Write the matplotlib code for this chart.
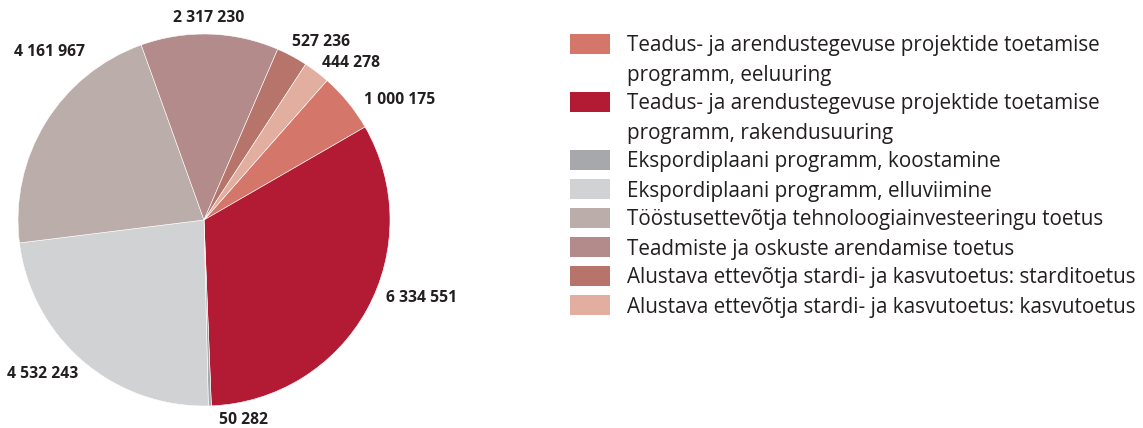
import matplotlib
matplotlib.use("Agg")
import matplotlib.pyplot as plt
from matplotlib.patches import Rectangle

categories = [
    "Teadus- ja arendustegevuse projektide toetamise\nprogramm, eeluuring",
    "Teadus- ja arendustegevuse projektide toetamise\nprogramm, rakendusuuring",
    "Ekspordiplaani programm, koostamine",
    "Ekspordiplaani programm, elluviimine",
    "Tööstusettevõtja tehnoloogiainvesteeringu toetus",
    "Teadmiste ja oskuste arendamise toetus",
    "Alustava ettevõtja stardi- ja kasvutoetus: starditoetus",
    "Alustava ettevõtja stardi- ja kasvutoetus: kasvutoetus",
]
values = [1000175, 6334551, 50282, 4532243, 4161967, 2317230, 527236, 444278]
value_labels = ["1 000 175", "6 334 551", "50 282", "4 532 243",
                "4 161 967", "2 317 230", "527 236", "444 278"]
colors = ["#D4776A", "#B31B34", "#A7A8AC", "#D1D2D4",
          "#BBAEAA", "#B38B8A", "#B7746B", "#E2AEA0"]

# label positions in pie (data) units
label_pos = [(1.054, 0.645), (1.172, -0.419), (0.215, -1.075), (-0.866, -0.828),
             (-0.828, 0.903), (0.027, 1.086), (0.629, 0.957), (0.790, 0.844)]

plt.rcParams['font.family'] = ['Open Sans', 'DejaVu Sans']
W, H = 1143, 428
fig = plt.figure(figsize=(W / 100, H / 100), dpi=100)

cx, cy, r = 204, 220, 186
ax = fig.add_axes([(cx - r) / W, (H - cy - r) / H, 2 * r / W, 2 * r / H])
ax.pie(values, colors=colors, startangle=48.6, counterclock=False, radius=1,
       wedgeprops=dict(linewidth=0.4, edgecolor="white"))
ax.set_xlim(-1, 1)
ax.set_ylim(-1, 1)
ax.set_aspect("auto")
ax.axis("off")

for (x, y), lab in zip(label_pos, value_labels):
    ax.text(x, y, lab, ha="center", va="center", fontsize=11.3, fontweight="bold",
            color="#231F20", clip_on=False)

# legend
box_x, box_w, box_h = 570, 40, 20
text_x = 627
line_h = 29.0
y = 44
for cat, col in zip(categories, colors):
    lines = cat.split("\n")
    fig.add_artist(Rectangle((box_x / W, (H - y - box_h / 2) / H), box_w / W, box_h / H,
                             transform=fig.transFigure, facecolor=col, edgecolor="none"))
    for i, ln in enumerate(lines):
        fig.text(text_x / W, (H - (y + 2 + i * line_h)) / H, ln, ha="left", va="center",
                 fontsize=14.9, color="#231F20")
    y += line_h * len(lines)

fig.savefig("out.png", dpi=100)
